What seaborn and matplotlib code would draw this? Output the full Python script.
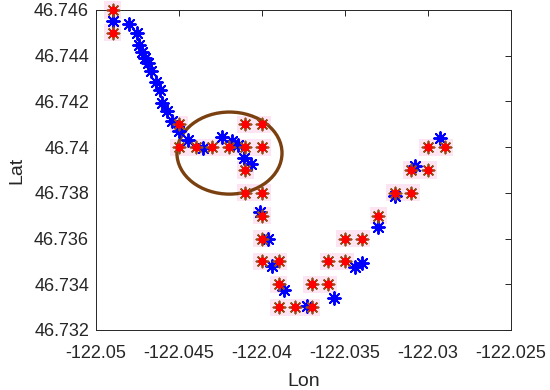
import numpy as np
import pandas as pd
import matplotlib
matplotlib.use("Agg")
import matplotlib.pyplot as plt
from matplotlib.patches import Ellipse
import seaborn as sns

# ---- data ----
grid_lon = [-122.049, -122.049,
            -122.045,
            -122.045, -122.044, -122.043, -122.042, -122.041, -122.040,
            -122.041, -122.040,
            -122.041,
            -122.041, -122.040,
            -122.040,
            -122.040,
            -122.040, -122.039,
            -122.039, -122.037, -122.036,
            -122.039, -122.038, -122.037,
            -122.036, -122.035,
            -122.035, -122.034,
            -122.033,
            -122.032, -122.031,
            -122.031, -122.030,
            -122.030, -122.029]
grid_lat = [46.746, 46.745,
            46.741,
            46.740, 46.740, 46.740, 46.740, 46.740, 46.740,
            46.741, 46.741,
            46.739,
            46.738, 46.738,
            46.737,
            46.736,
            46.735, 46.735,
            46.734, 46.734, 46.734,
            46.733, 46.733, 46.733,
            46.735, 46.735,
            46.736, 46.736,
            46.737,
            46.738, 46.738,
            46.739, 46.739,
            46.740, 46.740]

track_lon = [-122.04898, -122.04801, -122.04753, -122.04741, -122.04723, -122.04705,
             -122.04687, -122.04669, -122.04639, -122.04614, -122.04602, -122.04572,
             -122.04542, -122.04500, -122.04446, -122.04355, -122.04241, -122.04181,
             -122.04145, -122.04108, -122.04066, -122.04012, -122.03964, -122.03940,
             -122.03867, -122.03729, -122.03566, -122.03440, -122.03398, -122.03301,
             -122.03199, -122.03078, -122.02928]
track_lat = [46.74552, 46.74539, 46.74499, 46.74447, 46.74416, 46.74390,
             46.74368, 46.74333, 46.74285, 46.74250, 46.74193, 46.74158,
             46.74114, 46.74070, 46.74031, 46.73996, 46.74044, 46.74027,
             46.74009, 46.73952, 46.73926, 46.73716, 46.73598, 46.73480,
             46.73375, 46.73305, 46.73340, 46.73476, 46.73493, 46.73651,
             46.73786, 46.73917, 46.74040]

ellipse_center = (-122.04196, 46.73974)
ellipse_size = (0.00633, 0.00359)

xticks = [-122.05, -122.045, -122.04, -122.035, -122.03, -122.025]
xtick_labels = ["-122.05", "-122.045", "-122.04", "-122.035", "-122.03", "-122.025"]
yticks = [46.732, 46.734, 46.736, 46.738, 46.74, 46.742, 46.744, 46.746]
ytick_labels = ["46.732", "46.734", "46.736", "46.738", "46.74", "46.742", "46.744", "46.746"]

grid_df = pd.DataFrame({"Lon": grid_lon, "Lat": grid_lat})
track_df = pd.DataFrame({"Lon": track_lon, "Lat": track_lat})

# ---- style ----
sns.set_style("white")
plt.rcParams["font.family"] = ["Liberation Sans", "DejaVu Sans"]
plt.rcParams["xtick.direction"] = "in"
plt.rcParams["ytick.direction"] = "in"

fig = plt.figure(figsize=(5.5, 3.9), dpi=100)
ax = fig.add_axes([96 / 550, 60 / 390, 415 / 550, 320 / 390])

ast = (8, 2, 0)

sns.scatterplot(data=grid_df, x="Lon", y="Lat", ax=ax, marker="s", s=150,
                color="#FDE4F3", edgecolor="none", linewidth=0, zorder=1,
                clip_on=False, legend=False)
sns.scatterplot(data=track_df, x="Lon", y="Lat", ax=ax, marker=ast, s=85,
                color="#0000FF", linewidth=1.4, zorder=3, clip_on=False, legend=False)
sns.scatterplot(data=grid_df, x="Lon", y="Lat", ax=ax, marker=ast, s=75,
                color="#93501A", linewidth=1.3, zorder=4, clip_on=False, legend=False)
sns.scatterplot(data=grid_df, x="Lon", y="Lat", ax=ax, marker=ast, s=28,
                color="#FF0000", linewidth=1.3, zorder=5, clip_on=False, legend=False)

ell = Ellipse(ellipse_center, ellipse_size[0], ellipse_size[1], fill=False,
              edgecolor="#7A4010", linewidth=2.4, zorder=2)
ax.add_patch(ell)

ax.set_xlim(-122.05, -122.025)
ax.set_ylim(46.732, 46.746)
ax.set_xticks(xticks)
ax.set_xticklabels(xtick_labels, fontsize=13, color="#262626")
ax.set_yticks(yticks)
ax.set_yticklabels(ytick_labels, fontsize=13, color="#262626")
ax.tick_params(axis="both", which="both", direction="in", length=4, width=0.7,
               color="#262626", top=True, right=True)
ax.tick_params(axis="x", pad=10.5)
ax.tick_params(axis="y", pad=5)
for sp in ax.spines.values():
    sp.set_visible(True)
    sp.set_color("#262626")
    sp.set_linewidth(0.7)

ax.set_xlabel("Lon", fontsize=14, color="#262626", labelpad=8)
ax.set_ylabel("Lat", fontsize=14, color="#262626", labelpad=6)

fig.savefig("out.png", dpi=100)
